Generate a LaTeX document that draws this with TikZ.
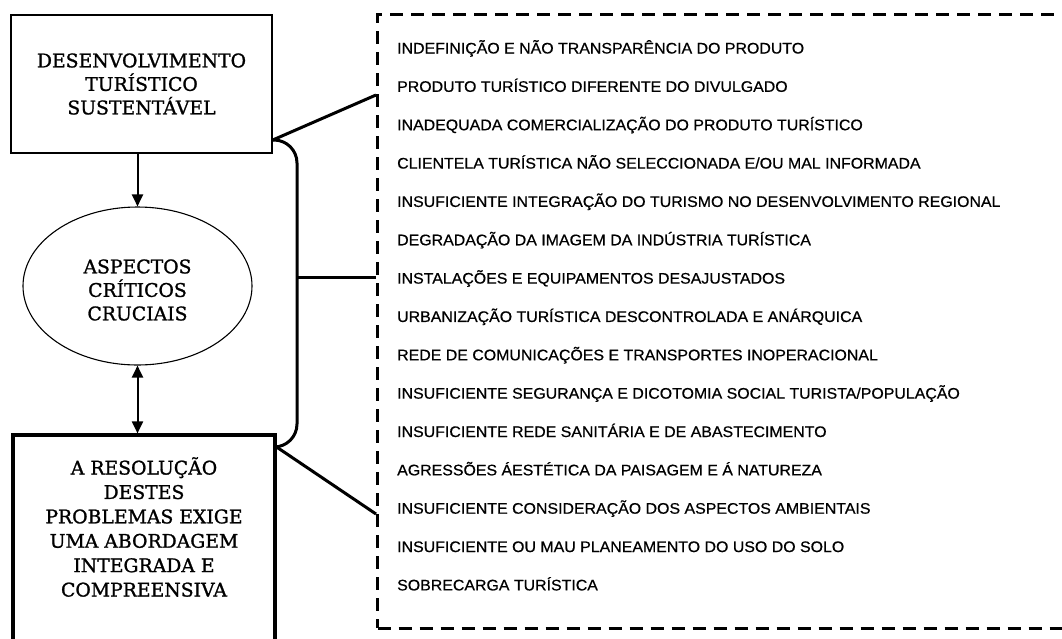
\documentclass[tikz,border=0pt]{standalone}
\usepackage{fontspec}
\setmainfont[FakeBold=1]{DejaVu Serif}
\newfontfamily\serifbox[FakeBold=1.2]{DejaVu Serif}
\newfontfamily\listfont[FakeStretch=1.04,FakeBold=0.6]{Liberation Sans}
\usetikzlibrary{shapes.geometric,arrows.meta}
\begin{document}
\begin{tikzpicture}[x=1pt,y=-1pt,
  serif/.style={font=\serifbox\fontsize{18.8}{23.5}\selectfont, align=center},
  box/.style={draw, rectangle, inner sep=0pt, serif},
  item/.style={anchor=base west, inner sep=0pt, font=\listfont\fontsize{15.3}{18}\selectfont},
  link/.style={line width=3pt},
  arrowline/.style={line width=2pt, -{Triangle[length=12pt,width=11pt]}},
  dblarrow/.style={line width=2pt, {Triangle[length=12pt,width=11pt]}-{Triangle[length=12pt,width=11pt]}}]
\useasboundingbox (0,0) rectangle (1062,638);
\fill[white] (0,0) rectangle (1062,638);

\node[box, line width=1.5pt, minimum width=261pt, minimum height=138pt] (top) at (141.5,84)
  {DESENVOLVIMENTO\\TURÍSTICO\\SUSTENTÁVEL};
\node[ellipse, draw, line width=1.1pt, minimum width=229pt, minimum height=158pt, inner sep=0pt,
  label={[serif, inner sep=0pt, yshift=-4pt]center:ASPECTOS\\CRÍTICOS\\CRUCIAIS}] (ell) at (137.5,286) {};
\node[draw, rectangle, line width=3.2pt, minimum width=262pt, minimum height=300pt, inner sep=0pt] (bot) at (144,585) {};
\node[serif, font=\serifbox\fontsize{18.8}{24.4}\selectfont, inner sep=0pt] (bottxt) at (144,527)
  {A RESOLUÇÃO\\DESTES\\PROBLEMAS EXIGE\\UMA ABORDAGEM\\INTEGRADA E\\COMPREENSIVA};

\node[draw, rectangle, line width=3pt, dash pattern=on 13pt off 8pt, minimum width=724pt, minimum height=614pt,
  inner sep=0pt, anchor=north west] (list) at (376,12.5) {};

\foreach \t [count=\i from 0] in {
  INDEFINIÇÃO E NÃO TRANSPARÊNCIA DO PRODUTO,
  PRODUTO TURÍSTICO DIFERENTE DO DIVULGADO,
  INADEQUADA COMERCIALIZAÇÃO DO PRODUTO TURÍSTICO,
  CLIENTELA TURÍSTICA NÃO SELECCIONADA E/OU MAL INFORMADA,
  INSUFICIENTE INTEGRAÇÃO DO TURISMO NO DESENVOLVIMENTO REGIONAL,
  DEGRADAÇÃO DA IMAGEM DA INDÚSTRIA TURÍSTICA,
  INSTALAÇÕES E EQUIPAMENTOS DESAJUSTADOS,
  URBANIZAÇÃO TURÍSTICA DESCONTROLADA E ANÁRQUICA,
  REDE DE COMUNICAÇÕES E TRANSPORTES INOPERACIONAL,
  INSUFICIENTE SEGURANÇA E DICOTOMIA SOCIAL TURISTA/POPULAÇÃO,
  INSUFICIENTE REDE SANITÁRIA E DE ABASTECIMENTO,
  AGRESSÕES ÁESTÉTICA DA PAISAGEM E Á NATUREZA,
  INSUFICIENTE CONSIDERAÇÃO DOS ASPECTOS AMBIENTAIS,
  INSUFICIENTE OU MAU PLANEAMENTO DO USO DO SOLO,
  SOBRECARGA TURÍSTICA}
  \node[item] (it\i) at (397,{53.5+38.35*\i}) {\t};

\draw[arrowline] (top.south -| ell.north) -- (ell.north);
\draw[dblarrow] (ell.south) -- (ell.south |- bot.north);

\coordinate (ta) at (top.east |- 0,140);
\coordinate (ba) at (bot.north east |- 0,447);
\coordinate (hj) at (297,277);
\draw[link, rounded corners=23pt] (ta) -- (297,140) -- (297,447) -- (ba);
\draw[link] (hj) -- (hj -| list.west);
\draw[link] (ta) -- (list.west |- 0,95);
\draw[link] (ba) -- (list.west |- 0,514);
\end{tikzpicture}
\end{document}
